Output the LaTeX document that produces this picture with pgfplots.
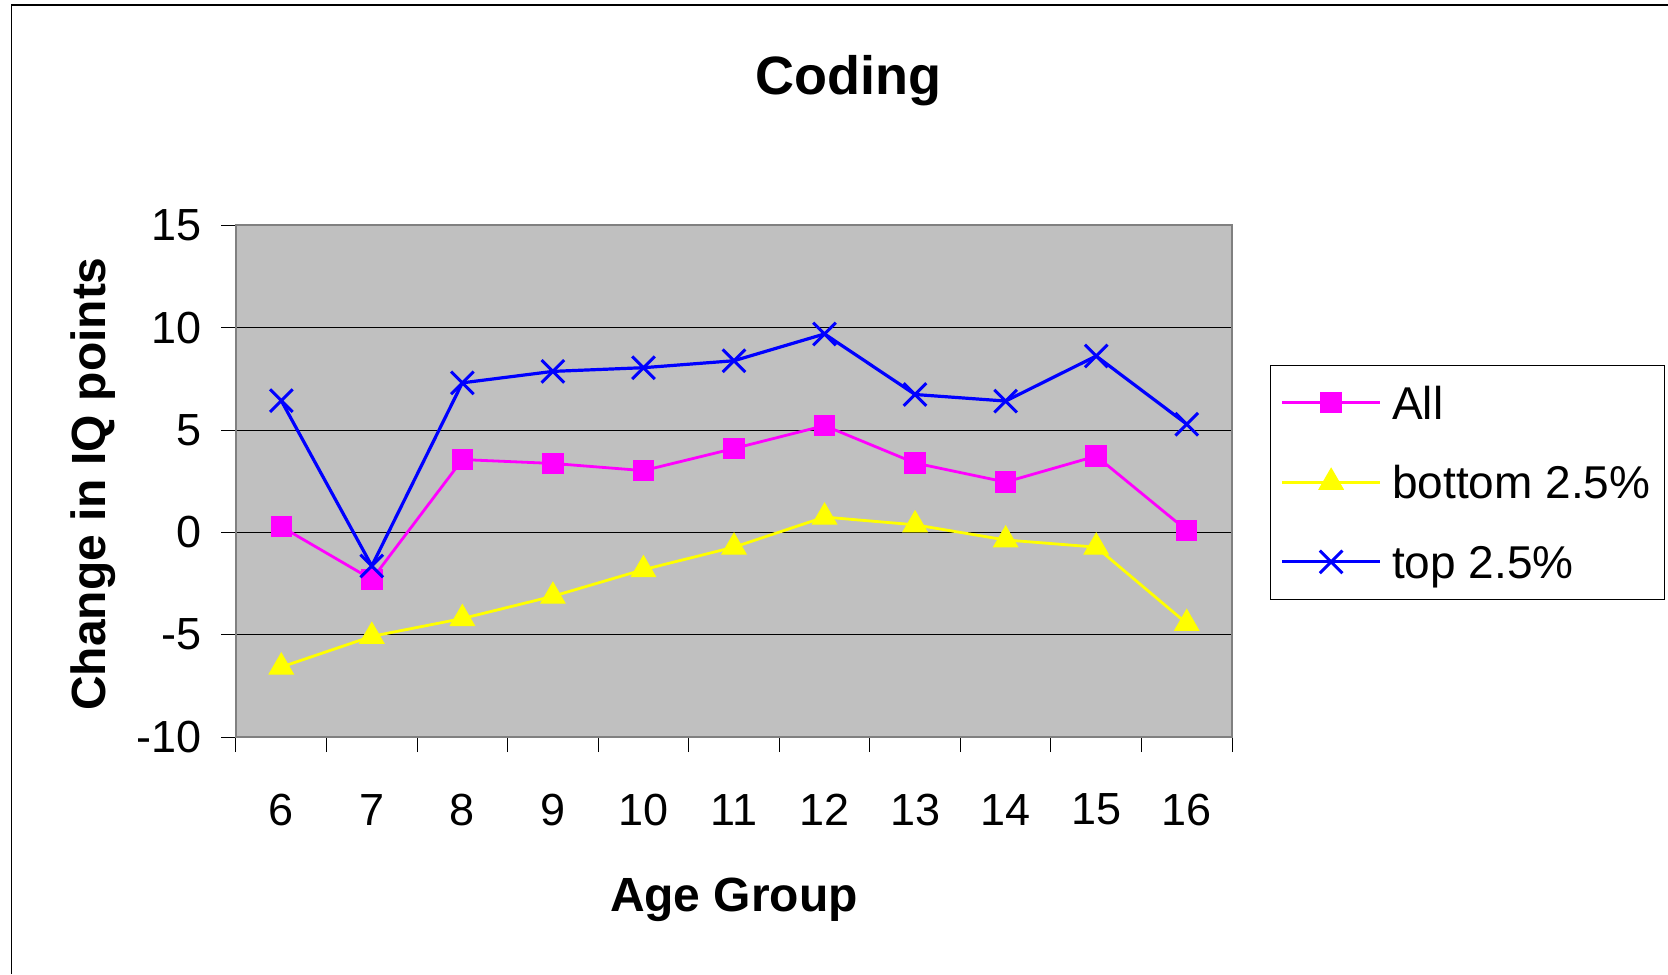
\documentclass[border=0pt]{standalone}
\usepackage{pgfplots}
\pgfplotsset{compat=1.18}
\usepackage{fontspec}
\setmainfont{Liberation Sans}
\definecolor{plotbg}{RGB}{192,192,192}
\definecolor{bordergray}{RGB}{128,128,128}
\definecolor{pinkm}{RGB}{255,0,255}
\definecolor{yel}{RGB}{255,255,0}
\definecolor{blu}{RGB}{0,0,255}
\begin{document}
\begin{tikzpicture}
\useasboundingbox (-118pt,-118.5pt) rectangle (716pt,368.5pt);
\draw[black, line width=0.8pt] (-112.15pt,-118.5pt) -- (-112.15pt,366pt) -- (716pt,366pt);
\begin{axis}[
  at={(0,0)}, anchor=south west,
  scale only axis,
  width=498pt, height=255.75pt,
  xmin=5.5, xmax=16.5,
  ymin=-10, ymax=15,
  xtick={6,7,8,9,10,11,12,13,14,15,16},
  xticklabels={6,7,8,9,10,11,12,13,14,15,16},
  minor xtick={5.5,6.5,7.5,8.5,9.5,10.5,11.5,12.5,13.5,14.5,15.5,16.5},
  ytick={-10,-5,0,5,10,15},
  yticklabels={-10,-5,0,5,10,15},
  xtick pos=bottom, ytick pos=left,
  tick align=outside,
  major tick length=7.5pt,
  minor tick length=7.5pt,
  major x tick style={draw=none},
  every tick/.style={black, line width=0.5pt},
  ymajorgrids,
  grid style={black, line width=0.5pt},
  axis background/.style={fill=plotbg},
  axis line style={draw=bordergray, line width=1pt},
  tick label style={font=\fontsize{22.5}{27}\selectfont},
  xticklabel style={anchor=center, yshift=-28.85pt},
  yticklabel style={anchor=east, inner sep=0pt, xshift=-9.5pt},
  title={\bfseries Coding},
  title style={font=\fontsize{27}{32}\selectfont, at={(axis description cs:0.6145,1.259)}, anchor=center},
  xlabel={\bfseries Age Group},
  xlabel style={font=\fontsize{24}{28}\selectfont, at={(axis description cs:0.5,-0.3175)}, anchor=center},
  ylabel={\bfseries Change in IQ points},
  ylabel style={font=\fontsize{24}{28}\selectfont, at={(axis description cs:-0.143,0.4946)}, anchor=center, rotate=0},
  legend style={at={(axis description cs:1.0382,0.7273)}, anchor=north west,
    draw=black, line width=0.5pt, fill=white,
    font=\fontsize{23}{27}\selectfont,
    inner xsep=5pt, inner ysep=3pt, row sep=8.6pt,
    nodes={inner ysep=0pt, inner xsep=2pt, text height=23.8pt, text depth=7.4pt}},
  legend cell align=left,
  legend image code/.code={\draw[mark repeat=2, mark phase=2, #1] plot coordinates {(0pt,0pt) (24.5pt,0pt) (49pt,0pt)};},
  clip=false,
]
\addplot[color=pinkm, line width=1.4pt, mark=square*, mark size=5.1pt, mark options={solid, fill=pinkm, draw=pinkm, line width=0.5pt}]
  coordinates {(6,0.28) (7,-2.30) (8,3.56) (9,3.37) (10,3.02) (11,4.10) (12,5.22) (13,3.39) (14,2.46) (15,3.73) (16,0.10)};
\addlegendentry{\hspace{3.2pt}All}
\addplot[color=yel, line width=1.4pt, mark=triangle*, mark size=7pt, mark options={solid, fill=yel, draw=yel, line width=0.5pt}]
  coordinates {(6,-6.58) (7,-5.08) (8,-4.21) (9,-3.12) (10,-1.82) (11,-0.72) (12,0.75) (13,0.37) (14,-0.37) (15,-0.72) (16,-4.45)};
\addlegendentry{\hspace{3.2pt}bottom 2.5\%}
\addplot[color=blu, line width=1.6pt, mark=x, mark size=8pt, mark options={solid, draw=blu, line width=1.5pt}]
  coordinates {(6,6.44) (7,-1.64) (8,7.31) (9,7.87) (10,8.05) (11,8.39) (12,9.70) (13,6.74) (14,6.42) (15,8.62) (16,5.29)};
\addlegendentry{\hspace{3.2pt}top 2.5\%}
\end{axis}
\end{tikzpicture}
\end{document}
